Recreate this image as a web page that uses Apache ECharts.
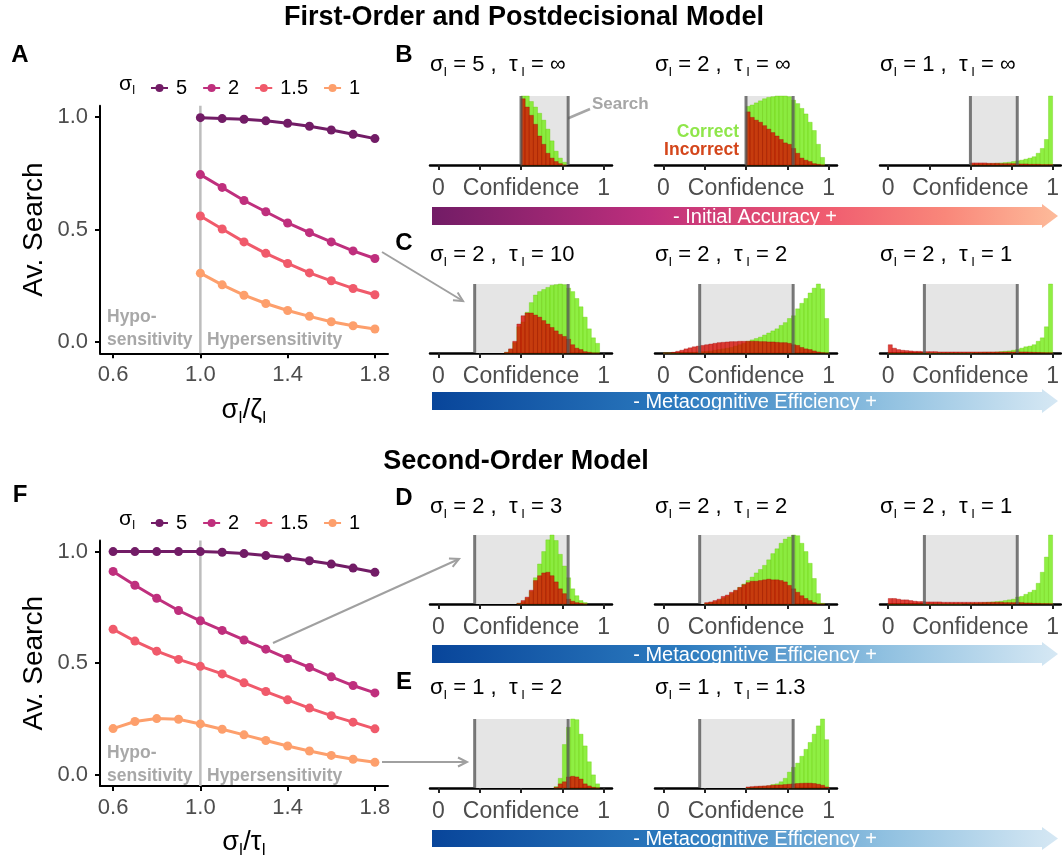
<!DOCTYPE html>
<html><head><meta charset="utf-8">
<script src="https://cdn.jsdelivr.net/npm/echarts@6/dist/echarts.min.js"></script>
<style>html,body{margin:0;padding:0;background:#fff}#c{width:1062px;height:860px}</style>
</head><body><div id="c"></div>
<script>
// ---------------- DATA ----------------
const sigmaLevels = ['5', '2', '1.5', '1'];
const ratioA = [1.0, 1.1, 1.2, 1.3, 1.4, 1.5, 1.6, 1.7, 1.8];
const ratioF = [0.6, 0.7, 0.8, 0.9, 1.0, 1.1, 1.2, 1.3, 1.4, 1.5, 1.6, 1.7, 1.8];
const ratioTicks = [0.6, 1.0, 1.4, 1.8];
const searchTicks = [0, 0.5, 1];
const refRatio = 1.0;

const A_s5  = [0.997, 0.993, 0.990, 0.983, 0.972, 0.959, 0.942, 0.923, 0.904];
const A_s2  = [0.744, 0.687, 0.629, 0.579, 0.529, 0.486, 0.445, 0.405, 0.371];
const A_s15 = [0.560, 0.502, 0.445, 0.394, 0.349, 0.307, 0.272, 0.238, 0.210];
const A_s1  = [0.306, 0.254, 0.208, 0.171, 0.140, 0.114, 0.090, 0.072, 0.058];

const F_s5  = [1.0, 1.0, 1.0, 1.0, 1.0, 0.997, 0.991, 0.982, 0.972, 0.959, 0.944, 0.926, 0.907];
const F_s2  = [0.911, 0.849, 0.791, 0.736, 0.690, 0.647, 0.604, 0.563, 0.521, 0.481, 0.439, 0.400, 0.367];
const F_s15 = [0.652, 0.599, 0.554, 0.517, 0.486, 0.452, 0.412, 0.373, 0.336, 0.299, 0.265, 0.236, 0.206];
const F_s1  = [0.207, 0.239, 0.252, 0.249, 0.228, 0.204, 0.179, 0.154, 0.129, 0.107, 0.087, 0.070, 0.056];

// histograms: bin width 0.025, heights relative to the tallest bin (100)
const BIN = 0.025;
const confTicks = [0, 0.25, 0.5, 0.75, 1];
const confLabels = [0, 0.5, 1];
const searchB = [0.5, 0.785];
const searchCDE = [0.22, 0.785];

const B1_start = 0.5;
const B1_correct   = [100, 100, 92, 84, 75, 65, 52, 35, 20, 10, 4];
const B1_incorrect = [96, 84, 72, 59, 42, 30, 17, 10, 5, 2, 0];
const B2_start = 0.5;
const B2_correct   = [85, 87, 90, 93, 96, 98, 99, 100, 100, 100, 99, 94, 89, 82, 74, 62, 50, 30, 11];
const B2_incorrect = [77, 69, 65, 62, 57, 52, 47, 42, 37, 32, 30, 24, 17, 10, 7, 5, 2, 1, 0];
const B3_start = 0.5;
const B3_correct   = [1, 1, 1.5, 1.5, 2, 2, 2.5, 3, 3.5, 4, 5, 6, 7, 8.5, 10, 12, 17, 24, 37, 100];
const B3_incorrect = [3, 3, 3, 3, 2.5, 2.5, 2.5, 2, 2, 2, 2, 1.5, 1.5, 1.5, 1, 1, 1, 0.5, 0.5, 0.5];

const C1_start = 0.4;
const C1_correct   = [1, 5, 15, 38, 45, 59, 73, 84, 89, 92, 95, 98, 99, 100, 99, 94, 89, 79, 67, 52, 35, 22, 14];
const C1_incorrect = [1, 6, 17, 42, 54, 58, 58, 55, 52, 47, 42, 37, 32, 27, 24, 20, 12, 7, 5, 2, 1, 0, 0];
const C2_start = 0.0;
const C2_correct   = [0, 0, 0, 0, 0.5, 0.5, 1, 1, 1.5, 2, 2.5, 3, 4, 5, 6, 7, 8, 10, 12, 14, 17, 19, 21, 23, 26, 29, 32, 35, 40, 44, 50, 54, 64, 72, 79, 87, 94, 100, 93, 50];
const C2_incorrect = [0, 0, 1, 2.5, 4, 6, 7.5, 9, 10, 11, 12, 13, 14, 15, 15.5, 16, 16.5, 16.5, 17, 17, 17, 17, 17, 16.5, 16.5, 16, 16, 15.5, 15, 15, 14, 12, 11, 8, 6, 5, 3, 1.5, 0.5, 0];
const C3_start = 0.0;
const C3_correct   = [0, 0, 0, 0, 0, 0, 0, 0, 0, 0, 0, 0, 0, 0, 0, 0, 0, 0, 0, 0, 0.5, 0.5, 0.5, 1, 1, 1, 1.5, 2, 2.5, 3, 4, 5, 7, 9, 10, 12, 17, 22, 38, 100];
const C3_incorrect = [12, 7, 5, 4, 3.5, 3, 2.5, 2.5, 2, 2, 2, 2, 1.5, 1.5, 1.5, 1.5, 1.5, 1.5, 1.5, 1.5, 1.5, 1.5, 1.5, 1.5, 1.5, 1.5, 1.5, 1.5, 1.5, 1.5, 1.5, 1.5, 1.5, 1.5, 1.2, 1, 0.8, 0.5, 0.3, 0.2];

const D1_start = 0.475;
const D1_correct   = [1, 3, 8, 18, 38, 58, 76, 93, 100, 92, 72, 55, 38, 22, 12, 5, 2];
const D1_incorrect = [1, 5, 10, 20, 34, 41, 45, 46, 41, 32, 22, 15, 7, 4, 2, 1, 0];
const D2_start = 0.25;
const D2_correct   = [1, 2, 3, 5, 8, 11, 15, 19, 24, 29, 34, 39, 45, 50, 56, 64, 73, 80, 88, 94, 97, 100, 99, 88, 76, 59, 37, 15, 1];
const D2_incorrect = [2, 3, 5, 7, 11, 13, 17, 20, 24, 28, 31, 33, 33, 34, 35, 36, 35, 35, 34, 32, 27, 22, 17, 12, 8, 5, 2, 0, 0];
const D3_start = 0.0;
const D3_correct   = [0, 0, 0, 0, 0, 0, 0, 0, 0, 0, 0, 0, 0, 0, 0, 0, 0, 0, 0.5, 0.5, 1, 1, 1.5, 2, 2.5, 3, 3.5, 4, 5, 6, 7, 10, 11, 14, 17, 20, 30, 46, 68, 100];
const D3_incorrect = [8, 8, 7, 6, 6, 5, 4, 3.5, 3.5, 3, 3, 3, 3, 2.5, 2.5, 2.5, 2.5, 2.5, 2.5, 2.5, 2.5, 2.5, 2.5, 2.5, 2.5, 2.5, 2.5, 2.5, 2, 2, 2, 2, 2, 1.5, 1.5, 1, 1, 0.5, 0.5, 0.3];

const E1_start = 0.7;
const E1_correct   = [2, 14, 63, 88, 100, 99, 78, 61, 38, 19, 6];
const E1_incorrect = [1, 6, 9, 16, 17, 16, 13, 6, 3, 1, 0];
const E2_start = 0.5;
const E2_correct   = [0.5, 1, 1.5, 2, 2.5, 3, 5, 6, 9, 14, 23, 30, 36, 46, 56, 66, 78, 90, 100, 70];
const E2_incorrect = [1.5, 2, 2.5, 2.8, 3, 3.5, 4, 4.2, 4.5, 5, 5.5, 6, 6.5, 6.8, 7, 7, 6.5, 5.5, 4, 1.5];

const B_sigma = ['5', '2', '1'];  const B_tau = ['\u221E', '\u221E', '\u221E'];
const C_sigma = ['2', '2', '2'];  const C_tau = ['10', '2', '1'];
const D_sigma = ['2', '2', '2'];  const D_tau = ['3', '2', '1'];
const E_sigma = ['1', '1'];       const E_tau = ['2', '1.3'];

// ---------------- STYLE / LAYOUT ----------------
const FONT = '"Liberation Sans", Arial, sans-serif';
const colors = { '5': '#721c66', '2': '#bf2f7d', '1.5': '#f05a6b', '1': '#fd9f6c' };
const GREEN = 'rgba(118,236,26,0.82)';
const RED = 'rgba(215,10,0,0.78)';
const HIST_MAX = 100;

const colLeft = [430, 655, 880];
const rowTop = { B: 96, C: 284, D: 535, E: 719 };
const rowTitleY = { B: 65, C: 255, D: 507, E: 688 };

const histPanels = [
  { row: 'B', col: 0, start: B1_start, correct: B1_correct, incorrect: B1_incorrect, band: searchB, s: B_sigma[0], t: B_tau[0] },
  { row: 'B', col: 1, start: B2_start, correct: B2_correct, incorrect: B2_incorrect, band: searchB, s: B_sigma[1], t: B_tau[1] },
  { row: 'B', col: 2, start: B3_start, correct: B3_correct, incorrect: B3_incorrect, band: searchB, s: B_sigma[2], t: B_tau[2] },
  { row: 'C', col: 0, start: C1_start, correct: C1_correct, incorrect: C1_incorrect, band: searchCDE, s: C_sigma[0], t: C_tau[0] },
  { row: 'C', col: 1, start: C2_start, correct: C2_correct, incorrect: C2_incorrect, band: searchCDE, s: C_sigma[1], t: C_tau[1] },
  { row: 'C', col: 2, start: C3_start, correct: C3_correct, incorrect: C3_incorrect, band: searchCDE, s: C_sigma[2], t: C_tau[2] },
  { row: 'D', col: 0, start: D1_start, correct: D1_correct, incorrect: D1_incorrect, band: searchCDE, s: D_sigma[0], t: D_tau[0] },
  { row: 'D', col: 1, start: D2_start, correct: D2_correct, incorrect: D2_incorrect, band: searchCDE, s: D_sigma[1], t: D_tau[1] },
  { row: 'D', col: 2, start: D3_start, correct: D3_correct, incorrect: D3_incorrect, band: searchCDE, s: D_sigma[2], t: D_tau[2] },
  { row: 'E', col: 0, start: E1_start, correct: E1_correct, incorrect: E1_incorrect, band: searchCDE, s: E_sigma[0], t: E_tau[0] },
  { row: 'E', col: 1, start: E2_start, correct: E2_correct, incorrect: E2_incorrect, band: searchCDE, s: E_sigma[1], t: E_tau[1] }
];

function bins(start, arr) {
  return arr.map((h, i) => [+(start + i * BIN).toFixed(4), +(start + (i + 1) * BIN).toFixed(4), h]);
}

const grids = [], xAxes = [], yAxes = [], series = [];
const subRich = {
  g: { fontSize: 22, fontFamily: FONT, color: '#000', lineHeight: 28 },
  s: { fontSize: 13, fontFamily: FONT, color: '#000', verticalAlign: 'bottom' }
};
const legRich = {
  g: { fontSize: 21, fontFamily: FONT, color: '#000', lineHeight: 26 },
  s: { fontSize: 12, fontFamily: FONT, color: '#000', verticalAlign: 'bottom' }
};
const axisNameRich = {
  g: { fontSize: 27, fontFamily: FONT, color: '#000', lineHeight: 32 },
  s: { fontSize: 16, fontFamily: FONT, color: '#000', verticalAlign: 'bottom' }
};

// ---- line panels (A and F) ----
function addLinePanel(top, xs, ys, xName) {
  const gi = grids.length;
  grids.push({ left: 100, top: top, width: 288, height: 247.5 });
  xAxes.push({
    gridIndex: gi, type: 'value', min: 0.54, max: 1.86,
    axisLine: { onZero: false, lineStyle: { color: '#000', width: 2 } },
    axisTick: { customValues: ratioTicks, length: 5, lineStyle: { color: '#000', width: 2 } },
    axisLabel: { customValues: ratioTicks, formatter: v => v.toFixed(1), color: '#4d4d4d', fontSize: 22, fontFamily: FONT, margin: 11 },
    splitLine: { show: false },
    name: xName, nameLocation: 'middle', nameGap: 41,
    nameTextStyle: { rich: axisNameRich }
  });
  yAxes.push({
    gridIndex: gi, type: 'value', min: -0.05, max: 1.05,
    axisLine: { show: true, onZero: false, lineStyle: { color: '#000', width: 2 } },
    axisTick: { show: true, customValues: searchTicks, length: 5, lineStyle: { color: '#000', width: 2 } },
    axisLabel: { customValues: searchTicks, formatter: v => v.toFixed(1), color: '#4d4d4d', fontSize: 22, fontFamily: FONT, margin: 12 },
    splitLine: { show: false },
    name: 'Av. Search', nameLocation: 'middle', nameGap: 52,
    nameTextStyle: { fontSize: 28, fontFamily: FONT, color: '#000' }
  });
  series.push({
    type: 'line', xAxisIndex: gi, yAxisIndex: gi, z: 1, silent: true,
    data: [[refRatio, -0.05], [refRatio, 1.05]], symbol: 'none',
    lineStyle: { color: '#bdbdbd', width: 2.5 }
  });
  sigmaLevels.forEach((lvl, k) => {
    series.push({
      name: lvl, type: 'line', xAxisIndex: gi, yAxisIndex: gi, z: 3,
      data: xs.map((x, i) => [x, ys[k][i]]),
      symbol: 'circle', symbolSize: 9, showSymbol: true,
      itemStyle: { color: colors[lvl] },
      lineStyle: { color: colors[lvl], width: 3 }
    });
  });
}
addLinePanel(105.75, ratioA, [A_s5, A_s2, A_s15, A_s1], '{g|\u03C3}{s|I}{g|/\u03B6}{s|I}');
addLinePanel(540.4, ratioF, [F_s5, F_s2, F_s15, F_s1], '{g|\u03C3}{s|I}{g|/\u03C4}{s|I}');

// ---- histogram panels ----
function bandRender(params, api) {
  const a = api.coord([api.value(0), 0]);
  const b = api.coord([api.value(1), HIST_MAX]);
  return { type: 'rect', shape: { x: a[0], y: b[1], width: b[0] - a[0], height: a[1] - b[1] }, style: { fill: '#e5e5e5' } };
}
function edgeRender(params, api) {
  const a0 = api.coord([api.value(0), 0]), a1 = api.coord([api.value(0), HIST_MAX]);
  const b0 = api.coord([api.value(1), 0]), b1 = api.coord([api.value(1), HIST_MAX]);
  const st = { stroke: 'rgba(85,85,85,0.78)', lineWidth: 3 };
  return { type: 'group', children: [
    { type: 'line', shape: { x1: a0[0], y1: a0[1], x2: a1[0], y2: a1[1] }, style: st },
    { type: 'line', shape: { x1: b0[0], y1: b0[1], x2: b1[0], y2: b1[1] }, style: st }
  ] };
}
function barRender(fill, stroke) {
  return function (params, api) {
    const a = api.coord([api.value(0), 0]);
    const b = api.coord([api.value(1), api.value(2)]);
    return { type: 'rect', shape: { x: a[0], y: b[1], width: b[0] - a[0], height: a[1] - b[1] },
      style: { fill: fill, stroke: stroke, lineWidth: 0.6 } };
  };
}

histPanels.forEach(p => {
  const gi = grids.length;
  grids.push({ left: colLeft[p.col], top: rowTop[p.row], width: 182, height: 69 });
  xAxes.push({
    gridIndex: gi, type: 'value', min: -0.05, max: 1.05,
    axisLine: { onZero: false, lineStyle: { color: '#000', width: 2.5 } },
    axisTick: { customValues: confTicks, length: 5, lineStyle: { color: '#222', width: 2 } },
    axisLabel: { customValues: confLabels, formatter: v => (v === 0 ? '0' : v === 1 ? '1' : 'Confidence'),
      color: '#4d4d4d', fontSize: 23, fontFamily: FONT, margin: 12 },
    splitLine: { show: false }
  });
  yAxes.push({ gridIndex: gi, type: 'value', min: 0, max: HIST_MAX, show: false });
  series.push({ type: 'custom', xAxisIndex: gi, yAxisIndex: gi, z: 1, silent: true,
    encode: { x: [0, 1] }, data: [p.band], renderItem: bandRender });
  series.push({ type: 'custom', xAxisIndex: gi, yAxisIndex: gi, z: 2, silent: true,
    encode: { x: [0, 1], y: 2 }, data: bins(p.start, p.correct), renderItem: barRender(GREEN, 'rgba(100,200,0,0.55)') });
  series.push({ type: 'custom', xAxisIndex: gi, yAxisIndex: gi, z: 3, silent: true,
    encode: { x: [0, 1], y: 2 }, data: bins(p.start, p.incorrect), renderItem: barRender(RED, 'rgba(160,0,0,0.55)') });
  series.push({ type: 'custom', xAxisIndex: gi, yAxisIndex: gi, z: 4, silent: true,
    encode: { x: [0, 1] }, data: [p.band], renderItem: edgeRender });
});

// ---------------- GRAPHIC ANNOTATIONS ----------------
const gfx = [];
function txt(x, y, text, opt) {
  gfx.push(Object.assign({ type: 'text', x: x, y: y, silent: true,
    style: Object.assign({ text: text, fontFamily: FONT, align: 'left', verticalAlign: 'middle',
      textAlign: 'left', textVerticalAlign: 'middle' }, opt || {}) }));
}
function arrow(x1, y1, x2, y2, color, w) {
  const ang = Math.atan2(y2 - y1, x2 - x1), L = 9, W = 4.5;
  const bx = x2 - L * Math.cos(ang), by = y2 - L * Math.sin(ang);
  const px = -Math.sin(ang) * W, py = Math.cos(ang) * W;
  gfx.push({ type: 'line', silent: true, shape: { x1: x1, y1: y1, x2: x2, y2: y2 }, style: { stroke: color, lineWidth: w } });
  gfx.push({ type: 'polyline', silent: true, shape: { points: [[bx + px, by + py], [x2, y2], [bx - px, by - py]] },
    style: { stroke: color, lineWidth: w, fill: null } });
}
function gradArrow(x0, x1, yT, yB, stops, label) {
  const h = 16, ym = (yT + yB) / 2;
  gfx.push({ type: 'polygon', silent: true,
    shape: { points: [[x0, yT], [x1 - h, yT], [x1 - h, yT - 3], [x1, ym], [x1 - h, yB + 3], [x1 - h, yB], [x0, yB]] },
    style: { fill: new echarts.graphic.LinearGradient(0, 0, 1, 0, stops) } });
  txt(755, ym + 1, label, { fill: '#fff', fontSize: 20, align: 'center', textAlign: 'center' });
}

// main titles
txt(524, 18, 'First-Order and Postdecisional Model', { fontSize: 27, fontWeight: 'bold', fill: '#000', align: 'center', textAlign: 'center' });
txt(516, 462, 'Second-Order Model', { fontSize: 27, fontWeight: 'bold', fill: '#000', align: 'center', textAlign: 'center' });

// panel letters
[['A', 20, 55], ['F', 20, 495], ['B', 404, 55], ['C', 404, 243], ['D', 404, 498], ['E', 404, 682]].forEach(l =>
  txt(l[1], l[2], l[0], { fontSize: 24, fontWeight: 'bold', fill: '#000', align: 'center', textAlign: 'center' }));

// legend titles
txt(119, 84, '{g|\u03C3}{s|I}', { rich: legRich });
txt(119, 519, '{g|\u03C3}{s|I}', { rich: legRich });

// histogram panel titles
histPanels.forEach(p => {
  txt(colLeft[p.col], rowTitleY[p.row],
    '{g|\u03C3}{s|I}{g| = ' + p.s + ' ,  \u03C4}{s| I}{g| = ' + p.t + '}', { rich: subRich });
});

// hypo / hyper labels
const HY = { fontSize: 17.5, fontWeight: 'bold', fill: '#a8a8a8' };
txt(107, 317, 'Hypo-', HY); txt(107, 340, 'sensitivity', HY); txt(207, 340, 'Hypersensitivity', HY);
txt(107, 753, 'Hypo-', HY); txt(107, 776, 'sensitivity', HY); txt(207, 776, 'Hypersensitivity', HY);

// Search / Correct / Incorrect labels
const SR = { fontSize: 17, fontWeight: 'bold', fill: '#a6a6a6' };
txt(592, 104, 'Search', SR);
txt(705, 295, 'Search', SR);
txt(481, 546, 'Search', SR);
txt(482, 729, 'Search', SR);
const CC = { fontSize: 17.5, fontWeight: 'bold', fill: '#8fe64a' };
const IC = { fontSize: 17.5, fontWeight: 'bold', fill: '#d4461b' };
txt(739, 132, 'Correct', Object.assign({ align: 'right', textAlign: 'right' }, CC));
txt(739, 150, 'Incorrect', Object.assign({ align: 'right', textAlign: 'right' }, IC));
txt(710, 729, 'Correct', CC);
txt(710, 747, 'Incorrect', IC);

// connector arrows
arrow(590, 109, 550, 126, '#a6a6a6', 2.5);
arrow(382, 252, 463, 301, '#a0a0a0', 2);
arrow(273, 643, 459, 559, '#a0a0a0', 2);
arrow(382, 762, 467, 762, '#a0a0a0', 2);

// gradient arrows
const magma = [
  { offset: 0, color: '#721c66' }, { offset: 0.35, color: '#bf2f7d' },
  { offset: 0.62, color: '#ef5a6f' }, { offset: 0.82, color: '#f9877a' }, { offset: 1, color: '#fdbb9a' }];
const blues = [
  { offset: 0, color: '#08459a' }, { offset: 0.4, color: '#2c7bbf' },
  { offset: 0.72, color: '#8fc0e0' }, { offset: 1, color: '#d6e8f4' }];
gradArrow(432, 1058, 207, 225, magma, '- Initial Accuracy +');
gradArrow(432, 1058, 392, 410, blues, '- Metacognitive Efficiency +');
gradArrow(432, 1058, 645, 663, blues, '- Metacognitive Efficiency +');
gradArrow(432, 1058, 830, 847, blues, '- Metacognitive Efficiency +');

// ---------------- CHART ----------------
const legendBase = {
  data: sigmaLevels, itemWidth: 17, itemHeight: 10, itemGap: 15, selectedMode: false,
  textStyle: { fontSize: 20, fontFamily: FONT, color: '#000', padding: [0, 0, 0, 3] }
};
const chart = echarts.init(document.getElementById('c'), null, { renderer: 'canvas' });
chart.setOption({
  animation: false,
  backgroundColor: '#fff',
  textStyle: { fontFamily: FONT },
  legend: [Object.assign({ left: 145, top: 73 }, legendBase), Object.assign({ left: 145, top: 508 }, legendBase)],
  grid: grids, xAxis: xAxes, yAxis: yAxes, series: series, graphic: gfx
});
</script></body></html>
